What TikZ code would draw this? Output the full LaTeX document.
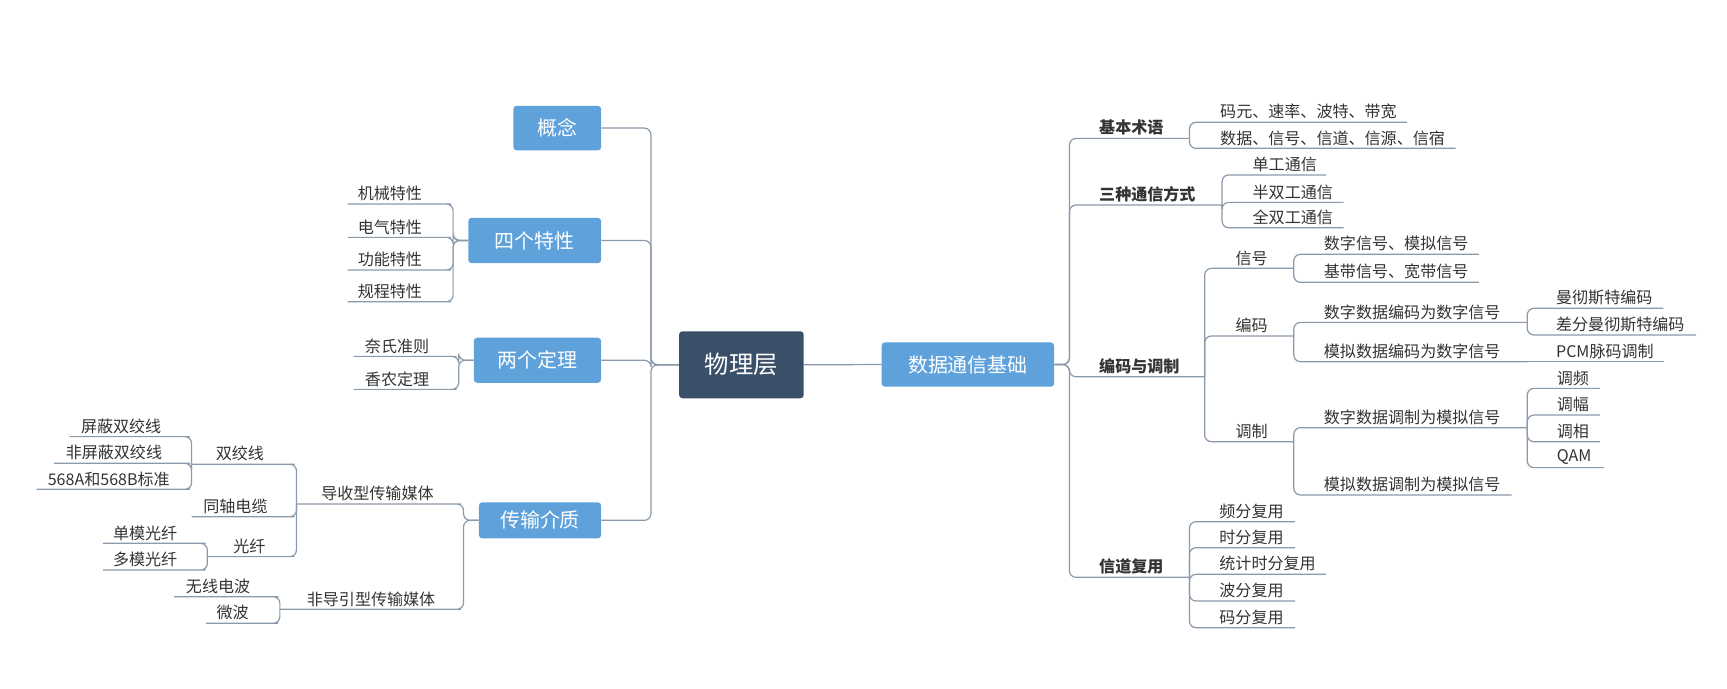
\documentclass[tikz,border=0pt]{standalone}
\usepackage{fontspec}
\setmainfont{Noto Sans CJK SC}
\definecolor{blueb}{HTML}{5FA2DB}
\definecolor{darkb}{HTML}{3A4F68}
\definecolor{linec}{HTML}{8A9AAA}
\definecolor{txt}{HTML}{333333}
\newcommand\mylf[7]{\pgfmathsetmacro\mytw{#6-#4}\pgfmathsetmacro\myin{#5-#4}\node[#1,anchor=south west,text width=\mytw pt] (#2) at (#4,#3) {\hspace*{\myin pt}\mbox{#7}};}
\begin{document}
\begin{tikzpicture}[x=1pt,y=-1pt,
  conn/.style={draw=linec,line width=1.1pt,rounded corners=6pt},
  leaf/.style={inner xsep=0pt,inner ysep=2.5pt,align=left,text=txt,font=\fontsize{14.5}{16}\selectfont},
  lone/.style={leaf,font=\fontsize{14.5}{16}\selectfont\bfseries},
  box/.style={fill=blueb,rounded corners=3pt,text=white,font=\fontsize{18}{20}\selectfont,inner sep=0pt},
  root/.style={box,fill=darkb,font=\fontsize{22}{24}\selectfont}]
\useasboundingbox (0,0) rectangle (1560,622);
% boxes
\node[root,minimum width=112.6pt,minimum height=60.5pt] (phys) at (669.7,329.5) {物理层};
\node[box,minimum width=155.8pt,minimum height=40pt] (data) at (874.3,329.3) {数据通信基础};
\node[box,minimum width=79.3pt,minimum height=40.3pt] (gn) at (503.4,115.7) {概念};
\node[box,minimum width=120pt,minimum height=41pt] (sg) at (483,217.2) {四个特性};
\node[box,minimum width=115pt,minimum height=40.7pt] (lg) at (485.5,325.4) {两个定理};
\node[box,minimum width=110.4pt,minimum height=32.6pt] (cs) at (487.8,470) {传输介质};
\coordinate (tL) at (588,0);
\coordinate (tR) at (966,0);
\foreach \c in {gn,sg,lg,cs} \draw[conn] (phys.west) -- (phys.west -| tL) |- (\c.east);
\draw[conn] (phys.east) -- (data.west);
% four characteristics
\coordinate (t4) at (409.3,0);
\mylf{leaf}{jx}{184.3}{313.9}{323}{401}{机械特性}
\mylf{leaf}{dq}{214.4}{313.9}{323}{401}{电气特性}
\mylf{leaf}{gnx}{243.9}{313.9}{323}{401}{功能特性}
\mylf{leaf}{gc}{272.5}{313.9}{323}{401}{规程特性}
\foreach \c in {jx,dq,gnx,gc} \draw[conn] (sg.west) -- (sg.west -| t4) |- (\c.south east) -- (\c.south west);
% two theorems
\coordinate (t2) at (414.3,0);
\mylf{leaf}{ns}{321.9}{319.4}{329.5}{406}{奈氏准则}
\mylf{leaf}{xn}{351.7}{319.4}{329.5}{406}{香农定理}
\foreach \c in {ns,xn} \draw[conn] (lg.west) -- (lg.west -| t2) |- (\c.south east) -- (\c.south west);
% media
\coordinate (tm) at (418.7,0);
\mylf{leaf}{dx}{455.2}{267.8}{290}{410}{导收型传输媒体}
\mylf{leaf}{fd}{550.4}{252.8}{277}{410}{非导引型传输媒体}
\foreach \c in {dx,fd} \draw[conn] (cs.west) -- (cs.west -| tm) |- (\c.south east) -- (\c.south west);
\mylf{leaf}{sjx}{419.4}{173}{194.7}{259.8}{双绞线}
\mylf{leaf}{tz}{466.7}{173}{183.5}{259.8}{同轴电缆}
\mylf{leaf}{gq}{502.8}{187.3}{210.5}{259.8}{光纤}
\foreach \c in {sjx,tz,gq} \draw[conn] (dx.south west) |- (\c.south east) -- (\c.south west);
\mylf{leaf}{pb}{394.4}{62.9}{73}{165}{屏蔽双绞线}
\mylf{leaf}{fpb}{418.5}{48.7}{59.2}{165}{非屏蔽双绞线}
\mylf{leaf}{bz}{442}{33}{43}{165}{568A和568B标准}
\foreach \c in {pb,fpb,bz} \draw[conn] (sjx.south west) |- (\c.south east) -- (\c.south west);
\mylf{leaf}{dm}{490.8}{92.9}{101.9}{179.3}{单模光纤}
\mylf{leaf}{mm}{514.9}{92.9}{101.9}{179.3}{多模光纤}
\foreach \c in {dm,mm} \draw[conn] (gq.south west) |- (\c.south east) -- (\c.south west);
\mylf{leaf}{wx}{539}{157.3}{167.8}{244.8}{无线电波}
\mylf{leaf}{wb}{563}{186.1}{195.5}{244.8}{微波}
\foreach \c in {wx,wb} \draw[conn] (fd.south west) |- (\c.south east) -- (\c.south west);
% right side level 1
\mylf{lone}{jb}{125}{992.7}{992.7}{1074}{基本术语}
\mylf{lone}{sz}{185.2}{992.7}{992.7}{1103.5}{三种通信方式}
\mylf{lone}{bm}{340.3}{992.7}{992.7}{1087.8}{编码与调制}
\mylf{lone}{xd}{521.5}{992.7}{992.7}{1074}{信道复用}
\foreach \c in {jb,sz,bm,xd} \draw[conn] (data.east) -- (data.east -| tR) |- (\c.south west) -- (\c.south east);
% basic terms
\mylf{leaf}{my}{110.5}{1102}{1102}{1270.6}{码元、速率、波特、带宽}
\mylf{leaf}{sj}{134}{1102}{1102}{1314.4}{数据、信号、信道、信源、信宿}
\foreach \c in {my,sj} \draw[conn] (jb.south east) |- (\c.south west) -- (\c.south east);
% three modes
\mylf{leaf}{dg}{158}{1131.3}{1131.3}{1197.5}{单工通信}
\mylf{leaf}{bsg}{182.8}{1131.3}{1131.3}{1213.3}{半双工通信}
\mylf{leaf}{qsg}{205.7}{1131.3}{1131.3}{1213.3}{全双工通信}
\foreach \c in {dg,bsg,qsg} \draw[conn] (sz.south east) |- (\c.south west) -- (\c.south east);
% coding
\mylf{leaf}{xh}{242.4}{1115.9}{1115.9}{1168.3}{信号}
\mylf{leaf}{bmx}{303.5}{1115.9}{1115.9}{1168.3}{编码}
\mylf{leaf}{tzh}{399}{1115.9}{1115.9}{1168.3}{调制}
\foreach \c in {xh,bmx,tzh} \draw[conn] (bm.south east) |- (\c.south west) -- (\c.south east);
\mylf{leaf}{szxh}{229.7}{1195.7}{1195.7}{1335.4}{数字信号、模拟信号}
\mylf{leaf}{jdxh}{255}{1195.7}{1195.7}{1335.4}{基带信号、宽带信号}
\foreach \c in {szxh,jdxh} \draw[conn] (xh.south east) |- (\c.south west) -- (\c.south east);
\mylf{leaf}{sbm}{291.2}{1195.7}{1195.7}{1379.2}{数字数据编码为数字信号}
\mylf{leaf}{mbm}{326.7}{1195.7}{1195.7}{1379.2}{模拟数据编码为数字信号}
\foreach \c in {sbm,mbm} \draw[conn] (bmx.south east) |- (\c.south west) -- (\c.south east);
\mylf{leaf}{mc}{278.5}{1405.4}{1405.4}{1502}{曼彻斯特编码}
\mylf{leaf}{cf}{302.6}{1405.4}{1405.4}{1531.6}{差分曼彻斯特编码}
\foreach \c in {mc,cf} \draw[conn] (sbm.south east) |- (\c.south west) -- (\c.south east);
\mylf{leaf}{pcm}{326.7}{1405.4}{1405.4}{1502.8}{PCM脉码调制}
\draw[conn] (mbm.south east) -- (pcm.south west) -- (pcm.south east);
\mylf{leaf}{stz}{386.3}{1195.7}{1195.7}{1379.2}{数字数据调制为模拟信号}
\mylf{leaf}{mtz}{447.1}{1195.7}{1195.7}{1365}{模拟数据调制为模拟信号}
\foreach \c in {stz,mtz} \draw[conn] (tzh.south east) |- (\c.south west) -- (\c.south east);
\mylf{leaf}{tp}{350.8}{1406}{1406}{1444.7}{调频}
\mylf{leaf}{tf}{374.9}{1406}{1406}{1444.7}{调幅}
\mylf{leaf}{tx}{399}{1406}{1406}{1444.7}{调相}
\mylf{leaf}{qam}{422.4}{1406}{1406}{1448.5}{QAM}
\foreach \c in {tp,tf,tx,qam} \draw[conn] (stz.south east) |- (\c.south west) -- (\c.south east);
% multiplexing
\mylf{leaf}{pf}{471.2}{1101.3}{1101.3}{1169.5}{频分复用}
\mylf{leaf}{sf}{494.7}{1101.3}{1101.3}{1169.5}{时分复用}
\mylf{leaf}{tj}{518.8}{1101.3}{1101.3}{1197.5}{统计时分复用}
\mylf{leaf}{bf}{542.9}{1101.3}{1101.3}{1169.5}{波分复用}
\mylf{leaf}{mf}{567}{1101.3}{1101.3}{1169.5}{码分复用}
\foreach \c in {pf,sf,tj,bf,mf} \draw[conn] (xd.south east) |- (\c.south west) -- (\c.south east);
\end{tikzpicture}
\end{document}
